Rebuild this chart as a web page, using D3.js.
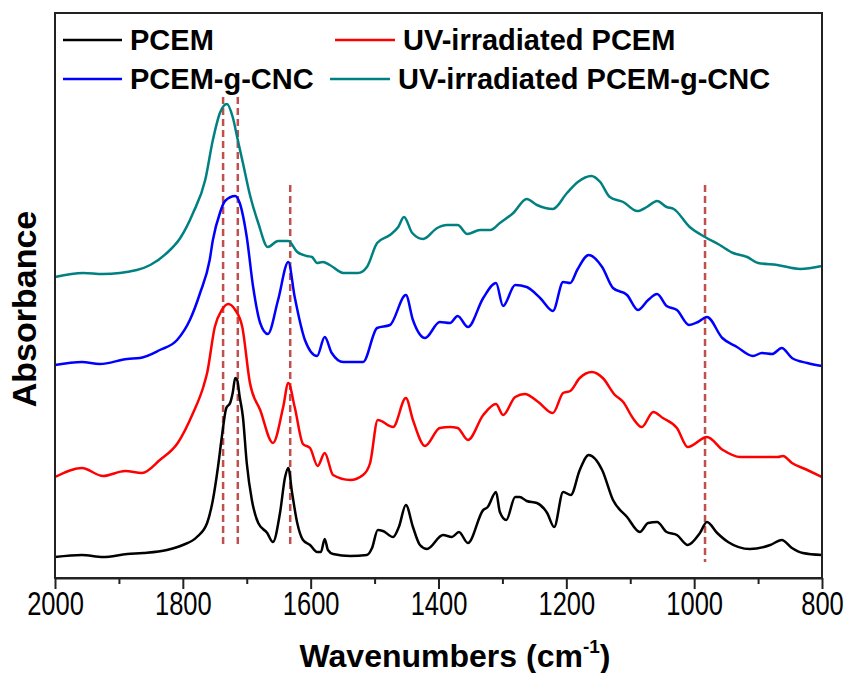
<!DOCTYPE html>
<html><head><meta charset="utf-8">
<script src="https://cdn.jsdelivr.net/npm/d3@7/dist/d3.min.js"></script>
<style>body{margin:0;background:#fff}svg{display:block}</style>
</head><body><svg id="c" width="849" height="673"></svg>
<script>
// Wavenumber / absorbance pairs
const pcem = [[2000,0.21],[1958,0.23],[1925,0.21],[1887,0.24],[1862,0.25],[1825,0.28],[1800,0.33],[1778,0.41],[1762,0.55],[1753,0.78],[1745,1.11],[1739,1.41],[1732,1.70],[1726,1.75],[1722,1.85],[1718,2.00],[1715,1.98],[1711,1.81],[1706,1.61],[1700,1.15],[1692,0.78],[1682,0.55],[1668,0.45],[1659,0.36],[1648,0.65],[1640,1.01],[1635,1.10],[1629,0.85],[1621,0.55],[1612,0.38],[1601,0.33],[1590,0.26],[1584,0.26],[1578,0.39],[1573,0.28],[1565,0.24],[1538,0.22],[1512,0.23],[1504,0.30],[1495,0.48],[1487,0.47],[1471,0.41],[1462,0.51],[1451,0.73],[1440,0.51],[1429,0.33],[1418,0.29],[1393,0.43],[1379,0.41],[1368,0.46],[1354,0.35],[1330,0.68],[1323,0.71],[1310,0.86],[1304,0.66],[1294,0.58],[1280,0.81],[1273,0.81],[1262,0.77],[1246,0.75],[1230,0.65],[1219,0.51],[1205,0.86],[1193,0.83],[1179,1.08],[1165,1.23],[1144,1.08],[1127,0.78],[1105,0.61],[1085,0.46],[1072,0.55],[1058,0.56],[1043,0.46],[1027,0.43],[1010,0.33],[991,0.45],[980,0.56],[964,0.45],[947,0.36],[913,0.29],[881,0.33],[863,0.38],[847,0.30],[830,0.25],[800,0.23]];
const uvPcem = [[2000,1.01],[1958,1.10],[1925,1.02],[1890,1.07],[1864,1.05],[1836,1.18],[1808,1.35],[1784,1.65],[1768,1.91],[1762,2.05],[1750,2.51],[1739,2.68],[1729,2.74],[1718,2.68],[1707,2.51],[1695,1.95],[1679,1.68],[1659,1.35],[1643,1.71],[1635,1.95],[1625,1.71],[1612,1.34],[1601,1.30],[1589,1.12],[1578,1.25],[1565,1.03],[1538,0.98],[1518,1.03],[1507,1.15],[1495,1.58],[1471,1.51],[1451,1.80],[1440,1.58],[1421,1.32],[1398,1.50],[1382,1.51],[1370,1.50],[1354,1.38],[1330,1.63],[1310,1.74],[1299,1.63],[1280,1.81],[1265,1.84],[1244,1.76],[1221,1.65],[1205,1.85],[1194,1.87],[1179,2.00],[1160,2.06],[1143,2.00],[1124,1.83],[1111,1.76],[1096,1.60],[1082,1.51],[1064,1.66],[1049,1.60],[1027,1.50],[1010,1.31],[980,1.41],[955,1.28],[928,1.21],[869,1.21],[861,1.22],[847,1.15],[823,1.08],[800,1.01]];
const pcemCnc = [[2000,2.13],[1958,2.16],[1930,2.14],[1887,2.19],[1867,2.20],[1836,2.28],[1809,2.38],[1789,2.58],[1773,2.85],[1758,3.18],[1753,3.38],[1742,3.65],[1734,3.77],[1718,3.82],[1711,3.75],[1700,3.41],[1690,2.91],[1679,2.55],[1667,2.44],[1651,2.78],[1635,3.16],[1625,2.81],[1609,2.38],[1590,2.22],[1578,2.41],[1567,2.25],[1549,2.16],[1518,2.16],[1496,2.50],[1476,2.53],[1451,2.83],[1440,2.58],[1421,2.40],[1398,2.56],[1382,2.55],[1370,2.62],[1354,2.51],[1330,2.80],[1310,2.95],[1299,2.72],[1280,2.93],[1262,2.91],[1241,2.80],[1221,2.67],[1205,2.96],[1194,2.95],[1183,3.08],[1165,3.23],[1144,3.11],[1127,2.90],[1105,2.83],[1088,2.68],[1072,2.78],[1058,2.84],[1043,2.72],[1027,2.68],[1008,2.53],[994,2.56],[980,2.61],[956,2.40],[933,2.31],[908,2.22],[894,2.25],[878,2.24],[863,2.30],[847,2.20],[823,2.15],[800,2.12]];
const uvPcemCnc = [[2000,3.01],[1956,3.05],[1925,3.04],[1872,3.08],[1851,3.13],[1825,3.25],[1804,3.40],[1784,3.65],[1765,3.98],[1753,4.38],[1742,4.65],[1731,4.74],[1722,4.61],[1714,4.38],[1706,4.15],[1695,3.83],[1682,3.55],[1667,3.31],[1651,3.37],[1635,3.37],[1621,3.26],[1606,3.22],[1598,3.21],[1590,3.15],[1581,3.16],[1570,3.13],[1549,3.05],[1526,3.05],[1512,3.11],[1496,3.35],[1476,3.43],[1463,3.51],[1454,3.61],[1441,3.45],[1424,3.39],[1402,3.50],[1387,3.53],[1370,3.53],[1355,3.44],[1335,3.48],[1319,3.48],[1304,3.55],[1283,3.65],[1262,3.79],[1246,3.73],[1221,3.69],[1199,3.85],[1182,3.96],[1161,4.02],[1147,3.96],[1132,3.81],[1111,3.76],[1089,3.67],[1074,3.71],[1058,3.77],[1043,3.71],[1032,3.69],[1007,3.51],[983,3.41],[960,3.33],[939,3.25],[917,3.21],[900,3.15],[870,3.13],[834,3.09],[800,3.12]];

const seriesNames = ["PCEM","UV-irradiated PCEM","PCEM-g-CNC","UV-irradiated PCEM-g-CNC"];
const seriesColors = ["#000000","#ff0000","#0000ff","#008080"];
const seriesData = [pcem, uvPcem, pcemCnc, uvPcemCnc];

// marker lines: wavenumber, top absorbance, bottom absorbance
const markerWavenumbers = [1737, 1714, 1632, 983];
const markerTops = [4.81, 4.81, 3.93, 3.93];
const markerBottoms = [0.31, 0.31, 0.31, 0.16];

const xTicksMajor = [2000,1800,1600,1400,1200,1000,800];
const xTicksMinor = [1900,1700,1500,1300,1100,900];

const svg = d3.select("#c");
const L=55, R=822, T=13, B=578;
const x = d3.scaleLinear().domain([2000,800]).range([L,R]);
const y = d3.scaleLinear().domain([0,5.65]).range([B,T]);

const font = "'Liberation Sans', Arial, sans-serif";

// markers
markerWavenumbers.forEach((w,i)=>{
  svg.append("line").attr("x1",x(w)).attr("x2",x(w))
    .attr("y1",y(markerTops[i])).attr("y2",y(markerBottoms[i]))
    .attr("stroke","#c0504d").attr("stroke-width",2.5).attr("stroke-dasharray","7,4");
});

// curves
const line = d3.line().x(d=>x(d[0])).y(d=>y(d[1])).curve(d3.curveMonotoneX);
seriesData.forEach((s,i)=>{
  svg.append("path").datum(s).attr("d",line).attr("fill","none")
    .attr("stroke",seriesColors[i]).attr("stroke-width",2.5).attr("stroke-linejoin","round");
});

// frame
svg.append("rect").attr("x",L).attr("y",T).attr("width",R-L).attr("height",B-T)
  .attr("fill","none").attr("stroke","#222").attr("stroke-width",2);

// x axis
const ax = svg.append("g").attr("transform",`translate(0,${B})`)
  .call(d3.axisBottom(x).tickValues(xTicksMajor).tickSize(11).tickSizeOuter(0).tickFormat(d3.format("d")));
ax.select(".domain").attr("stroke","#222").attr("stroke-width",2);
ax.selectAll(".tick line").attr("stroke","#222").attr("stroke-width",2);
ax.selectAll(".tick text").attr("font-family",font).attr("font-size",29).attr("fill","#000")
  .attr("y",0).attr("dy",0).attr("transform","translate(0,37) scale(0.88,1.12)");
const axm = svg.append("g").attr("transform",`translate(0,${B})`)
  .call(d3.axisBottom(x).tickValues(xTicksMinor).tickSize(6).tickSizeOuter(0).tickFormat(""));
axm.select(".domain").remove();
axm.selectAll(".tick line").attr("stroke","#222").attr("stroke-width",2);

// axis titles
const xt = svg.append("text").attr("x",455).attr("y",667).attr("text-anchor","middle")
  .attr("font-family",font).attr("font-weight","bold").attr("font-size",32).attr("fill","#000");
xt.append("tspan").text("Wavenumbers (cm");
xt.append("tspan").attr("font-size",19).attr("dy",-14).text("-1");
xt.append("tspan").attr("dy",14).text(")");

svg.append("text").attr("transform","translate(36,309) rotate(-90)").attr("text-anchor","middle")
  .attr("font-family",font).attr("font-weight","bold").attr("font-size",34).attr("fill","#000").text("Absorbance");

// legend
const legPos = [[63,122,130,50],[335,395,403,50],[63,122,130,89],[330,390,398,89]];
seriesNames.forEach((n,i)=>{
  const p = legPos[i];
  svg.append("line").attr("x1",p[0]).attr("x2",p[1]).attr("y1",p[3]-10).attr("y2",p[3]-10)
    .attr("stroke",seriesColors[i]).attr("stroke-width",2.5);
  svg.append("text").attr("x",p[2]).attr("y",p[3]).attr("font-family",font).attr("font-weight","bold")
    .attr("font-size",29).attr("fill","#000").text(n);
});
</script></body></html>
